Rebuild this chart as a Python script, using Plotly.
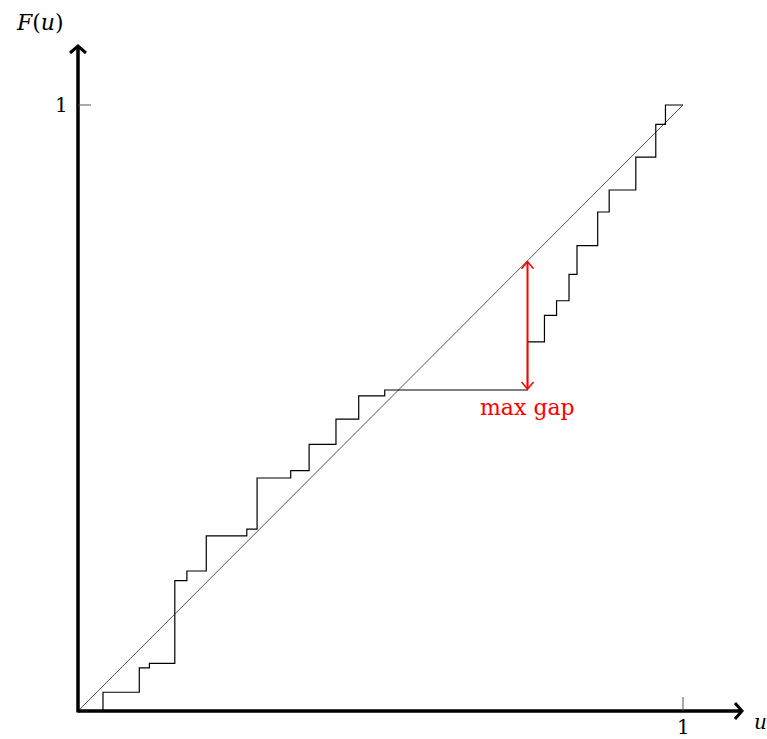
import numpy as np
import plotly.graph_objects as go

# ---- data ----
jump_u = [0.0, 0.0413, 0.1013, 0.118, 0.160, 0.180, 0.212, 0.279, 0.296, 0.3516,
          0.382, 0.4264, 0.464, 0.507, 0.743, 0.771, 0.791, 0.8116, 0.8248,
          0.859, 0.878, 0.922, 0.955, 0.971, 1.0]
levels = [0.0, 0.0309, 0.071, 0.0787, 0.215, 0.231, 0.289, 0.300, 0.3845, 0.3965,
          0.440, 0.4818, 0.520, 0.5297, 0.609, 0.653, 0.677, 0.7206, 0.768,
          0.8234, 0.8597, 0.914, 0.968, 1.0, 1.0]
diag_u = [0.0, 1.0]
x_ticks = [1]
y_ticks = [1]
x_label = "u"
y_label = "F(u)"
gap_label = "max gap"

# ---- geometry (pixels -> data) ----
W, H = 767, 739
PXU = 605.0   # pixels per unit along x
PYU = 606.0   # pixels per unit along y
ox, oy = 78, 711
x0 = -ox / PXU
x1 = x0 + W / PXU
y1 = oy / PYU
y0 = y1 - H / PYU

def dx(p):
    return p / PXU

def dy(p):
    return p / PYU

FONT = "DejaVu Serif"
FS = 22

fig = go.Figure()

# diagonal
fig.add_trace(go.Scatter(x=diag_u, y=diag_u, mode="lines",
                         line=dict(color="#555555", width=1), hoverinfo="skip"))
# step function
fig.add_trace(go.Scatter(x=jump_u, y=levels, mode="lines", line_shape="hv",
                         line=dict(color="black", width=1.2), hoverinfo="skip"))

# max gap (largest u - F(u-) at jumps)
gaps = [jump_u[i] - levels[i - 1] for i in range(1, len(jump_u))]
k = int(np.argmax(gaps)) + 1
gu, glo, ghi = jump_u[k], levels[k - 1], jump_u[k]
ghi_draw = ghi - dy(1)
fig.add_trace(go.Scatter(x=[gu, gu], y=[glo + dy(1), ghi_draw], mode="lines",
                         line=dict(color="red", width=2), hoverinfo="skip"))
for tip, sgn in [(ghi_draw, -1), (glo + dy(1), 1)]:
    fig.add_trace(go.Scatter(
        x=[gu - dx(6), gu, gu + dx(6)],
        y=[tip + sgn * dy(7), tip, tip + sgn * dy(7)],
        mode="lines", line=dict(color="red", width=1.5), hoverinfo="skip"))
fig.add_annotation(x=gu, y=glo - dy(3), text=gap_label, showarrow=False,
                   xanchor="center", yanchor="top",
                   font=dict(family=FONT, size=FS, color="red"))

# axes
xa_end = dx(664)
ya_end = dy(665)
fig.add_trace(go.Scatter(x=[0, xa_end], y=[0, 0], mode="lines",
                         line=dict(color="black", width=3.5), hoverinfo="skip"))
fig.add_trace(go.Scatter(x=[0, 0], y=[-dy(1.5), ya_end], mode="lines",
                         line=dict(color="black", width=3.5), hoverinfo="skip"))
fig.add_trace(go.Scatter(x=[xa_end - dx(7), xa_end, xa_end - dx(7)],
                         y=[dy(8), 0, -dy(8)], mode="lines",
                         line=dict(color="black", width=3), hoverinfo="skip"))
fig.add_trace(go.Scatter(x=[-dx(8), 0, dx(8)],
                         y=[ya_end - dy(7), ya_end, ya_end - dy(7)], mode="lines",
                         line=dict(color="black", width=3), hoverinfo="skip"))

# ticks
for t in x_ticks:
    fig.add_trace(go.Scatter(x=[t, t], y=[0, dy(14)], mode="lines",
                             line=dict(color="#555555", width=1), hoverinfo="skip"))
    fig.add_annotation(x=t, y=-dy(16), text=str(t), showarrow=False,
                       xanchor="center", yanchor="middle",
                       font=dict(family=FONT, size=20, color="black"))
for t in y_ticks:
    fig.add_trace(go.Scatter(x=[0, dx(13)], y=[t, t], mode="lines",
                             line=dict(color="#555555", width=1), hoverinfo="skip"))
    fig.add_annotation(x=-dx(8), y=t, text=str(t), showarrow=False,
                       xanchor="right", yanchor="middle",
                       font=dict(family=FONT, size=20, color="black"))

# axis labels
fig.add_annotation(x=xa_end + dx(18), y=-dy(11), text="<i>" + x_label + "</i>",
                   showarrow=False, xanchor="center", yanchor="middle",
                   font=dict(family=FONT, size=20, color="black"))
fig.add_annotation(x=-dx(38), y=ya_end + dy(24), text="<i>F</i>(<i>u</i>)",
                   showarrow=False, xanchor="center", yanchor="middle",
                   font=dict(family=FONT, size=FS, color="black"))

fig.update_layout(
    width=W, height=H,
    margin=dict(l=0, r=0, t=0, b=0),
    paper_bgcolor="white", plot_bgcolor="white",
    showlegend=False,
    xaxis=dict(range=[x0, x1], visible=False, fixedrange=True),
    yaxis=dict(range=[y0, y1], visible=False, fixedrange=True),
)

fig.write_html("out.html")
